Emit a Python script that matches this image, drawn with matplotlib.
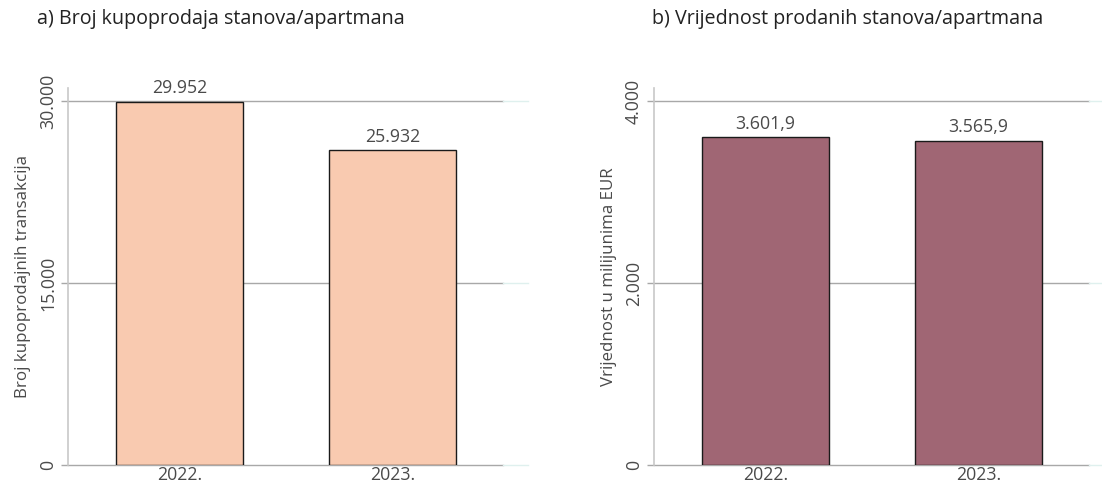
import matplotlib
matplotlib.use("Agg")
import matplotlib.pyplot as plt
from matplotlib import font_manager as fm
from matplotlib.lines import Line2D

years = ["2022.", "2023."]
transactions = [29952, 25932]
value_meur = [3601.9, 3565.9]
left_ticks = [0, 15000, 30000]
left_tick_labels = ["0", "15.000", "30.000"]
right_ticks = [0, 2000, 4000]
right_tick_labels = ["0", "2.000", "4.000"]
left_bar_labels = ["29.952", "25.932"]
right_bar_labels = ["3.601,9", "3.565,9"]

names = {f.name for f in fm.fontManager.ttflist}
fam = ["Open Sans", "DejaVu Sans"] if "Open Sans" in names else ["DejaVu Sans"]
plt.rcParams["font.family"] = fam

W, H = 1102, 491
fig = plt.figure(figsize=(W / 100, H / 100), dpi=100)

text_col = "#4a4a4a"
grid_col = "#a8a8a8"
faint_col = "#dff0ee"
FS = 12.8

def make_axes(x0, ytop, ybot, x1):
    return fig.add_axes([x0 / W, (H - ybot) / H, (x1 - x0) / W, (ybot - ytop) / H])

def draw(ax, vals, ticks, tlabels, blabels, ymax, color, ylabel):
    xs = list(range(len(vals)))
    ax.bar(xs, vals, width=0.6, color=color, edgecolor="#1a1a1a", linewidth=1.0, zorder=3)
    ax.set_xlim(-0.5235, 1.519)
    ax.set_ylim(0, ymax)
    ax.set_yticks(ticks)
    ax.set_yticklabels(tlabels, rotation=90, va="center", fontsize=FS, color=text_col)
    ax.set_xticks(xs)
    ax.set_xticklabels(years, fontsize=FS, color=text_col)
    ax.tick_params(axis="x", length=0, pad=1)
    ax.tick_params(axis="y", length=5, color=grid_col, width=1, pad=3)
    for s in ["top", "right", "bottom"]:
        ax.spines[s].set_visible(False)
    ax.spines["left"].set_color("#c8c8c8")
    ax.spines["left"].set_linewidth(1.2)
    for t in ticks:
        ax.axhline(t, color=grid_col, linewidth=1.0, zorder=1, clip_on=False)
        ax.add_line(Line2D([1.0, 1.058], [t, t], transform=ax.get_yaxis_transform(),
                           color=faint_col, linewidth=1.0, clip_on=False))
    for x, v, lab in zip(xs, vals, blabels):
        ax.annotate(lab, (x, v), xytext=(0, 3), textcoords="offset points",
                    ha="center", va="bottom", fontsize=FS, color=text_col)
    ax.set_ylabel(ylabel, fontsize=12.2, color=text_col, labelpad=6)

ax1 = make_axes(68, 88, 465, 503)
draw(ax1, transactions, left_ticks, left_tick_labels, left_bar_labels,
     31070, "#f9cab0", "Broj kupoprodajnih transakcija")
ax2 = make_axes(654, 88, 465, 1089)
draw(ax2, value_meur, right_ticks, right_tick_labels, right_bar_labels,
     4143, "#a06674", "Vrijednost u milijunima EUR")

fig.text(37 / W, 1 - 19 / H, "a) Broj kupoprodaja stanova/apartmana", fontsize=14.2,
         color="#222222", ha="left", va="center")
fig.text(652 / W, 1 - 19 / H, "b) Vrijednost prodanih stanova/apartmana", fontsize=14.2,
         color="#222222", ha="left", va="center")

fig.savefig("out.png", dpi=100)
